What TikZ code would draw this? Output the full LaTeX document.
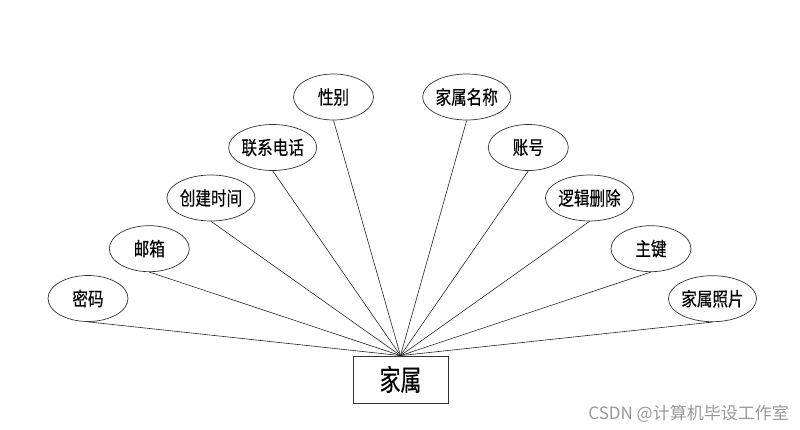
\documentclass[tikz,border=0pt]{standalone}
\usepackage{fontspec}
\setmainfont{Noto Sans CJK SC}
\newfontfamily\cjk[FakeStretch=0.82,FakeBold=0.3]{Noto Sans CJK SC}
\newfontfamily\cjkbig[FakeStretch=0.72,FakeBold=0.2]{Noto Sans CJK SC}
\newfontfamily\cjkwm{Noto Sans CJK SC}
\usetikzlibrary{shapes.geometric}
\tikzset{
  attr/.style={ellipse,draw=black!80,line width=0.7pt,minimum width=80pt,minimum height=46pt,inner sep=0pt,font=\cjk\fontsize{19pt}{20pt}\selectfont},
  ent/.style={rectangle,draw=black!80,line width=0.8pt,minimum width=95pt,minimum height=47pt,inner sep=0pt,font=\cjkbig\fontsize{29pt}{30pt}\selectfont},
  link/.style={draw=black!85,line width=0.6pt}
}
\begin{document}
\begin{tikzpicture}[x=1pt,y=-1pt]
\useasboundingbox[fill=white] (0,0) rectangle (800,430);
\node[ent] (e) at (400.5,379.5) {家属};
\node[attr] (a1) at (88,298.5) {密码};
\node[attr] (a2) at (149.3,248.7) {邮箱};
\node[attr] (a3) at (211,198) {创建时间};
\node[attr] (a4) at (272.7,147.5) {联系电话};
\node[attr] (a5) at (333.5,97) {性别};
\node[attr] (a6) at (466.7,97) {家属名称};
\node[attr] (a7) at (528.3,147.5) {账号};
\node[attr] (a8) at (589.5,198) {逻辑删除};
\node[attr] (a9) at (651,248.7) {主键};
\node[attr] (a10) at (712.5,298.7) {家属照片};
\foreach \i in {1,...,10} {\draw[link] (a\i.south) -- (e.north);}
\node[font=\cjkwm\fontsize{17pt}{18pt}\selectfont,text=black!40,anchor=east,inner sep=0pt] (wm) at (789,414) {CSDN @计算机毕设工作室};
\end{tikzpicture}
\end{document}
